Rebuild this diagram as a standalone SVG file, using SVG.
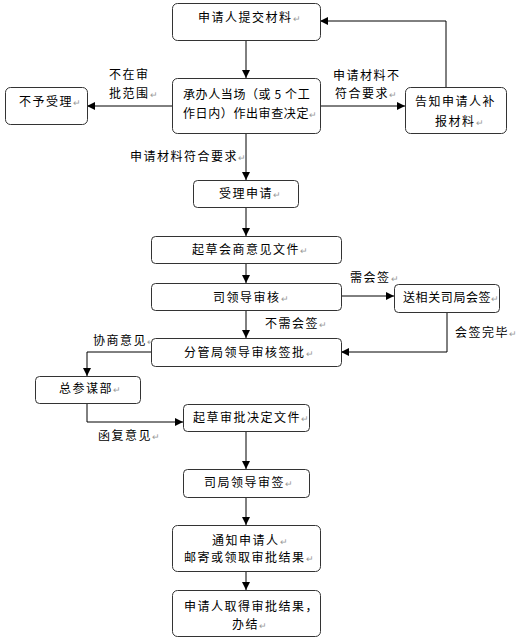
<svg xmlns="http://www.w3.org/2000/svg" width="532" height="642" viewBox="0 0 532 642">
<defs>
<marker id="ah" viewBox="0 0 10 10" refX="10" refY="5" markerWidth="8" markerHeight="8" markerUnits="userSpaceOnUse" orient="auto">
<path d="M0,0 L10,5 L0,10 z" fill="#000"/>
</marker>
</defs>
<style>
.box{fill:#fff;stroke:#333;stroke-width:1}
.t{font-family:"Noto Sans CJK SC","Noto Sans",sans-serif;font-size:12px;letter-spacing:1.5px;fill:#000}
.n{letter-spacing:0.6px}
.r{fill:#999;font-size:9px;letter-spacing:0}
.c{fill:none;stroke:#000;stroke-width:1;marker-end:url(#ah)}
</style>
<rect width="532" height="642" fill="#fff"/>
<g id="connectors">
<path class="c" d="M246,40 V78"/>
<path class="c" d="M172,106 H87"/>
<path class="c" d="M320,106 H405"/>
<path class="c" d="M446,87 V21 H320"/>
<path class="c" d="M246,133 V180"/>
<path class="c" d="M246,207 V236"/>
<path class="c" d="M246,263 V283"/>
<path class="c" d="M341,296 H394"/>
<path class="c" d="M246,310 V338"/>
<path class="c" d="M447,312 V352 H341"/>
<path class="c" d="M151,352 H87 V376"/>
<path class="c" d="M87,403 V422 H183"/>
<path class="c" d="M246,431 V469"/>
<path class="c" d="M246,497 V525"/>
<path class="c" d="M246,571 V590"/>
<text class="t" x="109" y="79">不在审</text>
<text class="t" x="109" y="98">批范围<tspan class="r">↵</tspan></text>
<text class="t" x="333" y="80">申请材料不</text>
<text class="t" x="335" y="98">符合要求<tspan class="r">↵</tspan></text>
<text class="t" x="130" y="161">申请材料符合要求<tspan class="r">↵</tspan></text>
<text class="t" x="350" y="282">需会签<tspan class="r">↵</tspan></text>
<text class="t" x="265" y="328">不需会签<tspan class="r">↵</tspan></text>
<text class="t" x="455" y="337">会签完毕<tspan class="r">↵</tspan></text>
<text class="t" x="93" y="345">协商意见<tspan class="r">↵</tspan></text>
<text class="t" x="98" y="440">函复意见<tspan class="r">↵</tspan></text>
</g>
<g id="n1"><rect class="box" x="172.5" y="3.5" width="148" height="37" rx="5"/><text class="t" x="198" y="22">申请人提交材料<tspan class="r">↵</tspan></text></g>
<g id="n2"><rect class="box" x="172.5" y="78.5" width="148" height="55" rx="5"/><text class="t n" x="183" y="99">承办人当场（或 5 个工</text><text class="t n" x="183" y="118">作日内）作出审查决定<tspan class="r">↵</tspan></text></g>
<g id="n3"><rect class="box" x="5.5" y="87.5" width="82" height="37" rx="5"/><text class="t" x="19" y="106">不予受理<tspan class="r">↵</tspan></text></g>
<g id="n4"><rect class="box" x="405.5" y="87.5" width="101" height="46" rx="5"/><text class="t" x="415" y="106">告知申请人补</text><text class="t" x="435" y="126">报材料<tspan class="r">↵</tspan></text></g>
<g id="n5"><rect class="box" x="193.5" y="180.5" width="105" height="27" rx="4"/><text class="t" x="219" y="198">受理申请<tspan class="r">↵</tspan></text></g>
<g id="n6"><rect class="box" x="151.5" y="236.5" width="190" height="27" rx="4"/><text class="t" x="192" y="254">起草会商意见文件<tspan class="r">↵</tspan></text></g>
<g id="n7"><rect class="box" x="151.5" y="283.5" width="190" height="27" rx="4"/><text class="t" x="213" y="302">司领导审核<tspan class="r">↵</tspan></text></g>
<g id="n8"><rect class="box" x="394.5" y="284.5" width="105" height="28" rx="4"/><text class="t n" x="403" y="302">送相关司局会签<tspan class="r">↵</tspan></text></g>
<g id="n9"><rect class="box" x="151.5" y="338.5" width="190" height="28" rx="4"/><text class="t" x="184" y="357">分管局领导审核签批<tspan class="r">↵</tspan></text></g>
<g id="n10"><rect class="box" x="35.5" y="376.5" width="105" height="27" rx="4"/><text class="t" x="59" y="393">总参谋部<tspan class="r">↵</tspan></text></g>
<g id="n11"><rect class="box" x="183.5" y="404.5" width="126" height="27" rx="4"/><text class="t" x="193" y="422">起草审批决定文件<tspan class="r">↵</tspan></text></g>
<g id="n12"><rect class="box" x="183.5" y="469.5" width="126" height="28" rx="4"/><text class="t" x="204" y="487">司局领导审签<tspan class="r">↵</tspan></text></g>
<g id="n13"><rect class="box" x="172.5" y="525.5" width="148" height="46" rx="5"/><text class="t" x="212" y="545">通知申请人<tspan class="r">↵</tspan></text><text class="t" x="184" y="562">邮寄或领取审批结果<tspan class="r">↵</tspan></text></g>
<g id="n14"><rect class="box" x="172.5" y="590.5" width="148" height="46" rx="5"/><text class="t" x="184" y="611">申请人取得审批结果，</text><text class="t" x="232" y="629">办结<tspan class="r">↵</tspan></text></g>
</svg>
